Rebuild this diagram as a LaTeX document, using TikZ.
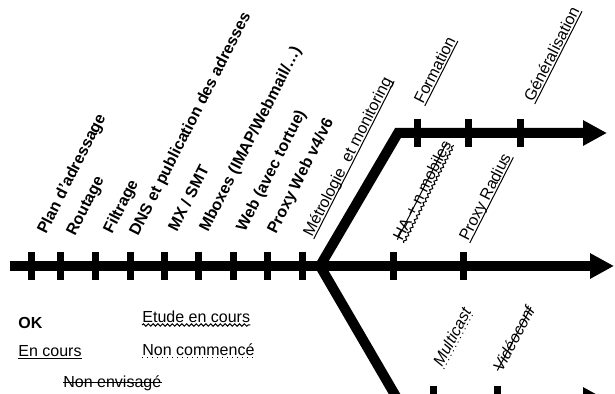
\documentclass[tikz,border=0pt]{standalone}
\usepackage{fontspec}
\setmainfont{Liberation Sans}
\usetikzlibrary{arrows.meta,calc,decorations.pathmorphing}

\tikzset{
  axis/.style={line width=5pt,line join=miter},
  axisarrow/.style={axis,-{Triangle[length=12pt,width=12pt]}},
  tickmark/.style={line width=3.5pt},
  textlab/.style={anchor=base west,inner sep=0pt,font=\fontsize{8}{9.6}\selectfont},
  lab/.style={textlab,rotate=63},
  donelab/.style={lab,font=\fontsize{8}{9.6}\selectfont\bfseries},
  slantlab/.style={textlab,rotate=62,font=\fontsize{8}{9.6}\selectfont\itshape},
  legend/.style={textlab},
  wavy/.style={decorate,decoration={snake,amplitude=.6pt,segment length=2.4pt}},
}
% under / through a text node
\newcommand{\lblunder}[2][]{\draw[line width=.5pt,#1]
  ($(#2.base west)!1pt!-90:(#2.base east)$) -- ($(#2.base east)!1pt!90:(#2.base west)$);}
\newcommand{\lblstrike}[1]{\draw[line width=.5pt] (#1.mid west) -- (#1.mid east);}

\begin{document}
\begin{tikzpicture}[x=.5pt,y=-.5pt]
  \useasboundingbox (0,0) rectangle (615,394);
  \clip (0,0) rectangle (615,394);

  % axes
  \coordinate (start) at (10,266);
  \coordinate (fork) at (320,266);
  \coordinate (mainend) at (614,266);
  \coordinate (upbend) at (398,133);
  \coordinate (upend) at (607,133);
  \coordinate (lowbend) at (398,400);
  \coordinate (lowend) at (607,400);
  \draw[axisarrow] (start) -- (mainend);
  \draw[axisarrow] (fork) -- (upbend) -- (upend);
  \draw[axisarrow] (fork) -- (lowbend) -- (lowend);

  \foreach \x in {31,60,95,130,164,198,233,267,302,393,463}
    \draw[tickmark] (\x,252) -- (\x,280);
  \foreach \x in {417,468,520}
    \draw[tickmark] (\x,119) -- (\x,147);
  \foreach \x in {433,497}
    \draw[tickmark] (\x,386) -- (\x,414);

  % done
  \node[donelab] (plan) at (46,235) {Plan d'adressage};
  \node[donelab] (routage) at (75,237) {Routage};
  \node[donelab] (filtrage) at (112,235) {Filtrage};
  \node[donelab] (dns) at (138,237) {DNS et publication des adresses};
  \node[donelab] (mx) at (177,233) {MX / SMT};
  \node[donelab] (mboxes) at (208,233) {Mboxes (IMAP/Webmail/…)};
  \node[donelab] (web) at (245,233) {Web (avec tortue)};
  \node[donelab] (proxyweb) at (276,235) {Proxy Web v4/v6};

  % in progress
  \node[lab] (metro) at (312,238) {Métrologie~ et monitoring};
  \node[lab] (formation) at (423,105) {Formation};
  \node[lab] (general) at (533,103) {Généralisation};
  \node[lab] (radius) at (468,242) {Proxy Radius};
  \foreach \n in {metro,formation,general,radius} {\lblunder{\n}}

  % under study
  \node[lab] (hamob) at (402,242) {HA + n mobiles};
  \lblunder[wavy]{hamob}
  \lblstrike{hamob}

  % not started / not planned
  \node[slantlab] (multicast) at (442,368) {Multicast};
  \lblunder[dotted]{multicast}
  \node[slantlab] (visio) at (502,373) {Vidéoconf};
  \lblstrike{visio}

  % legend
  \node[legend,font=\fontsize{8}{9.6}\selectfont\bfseries] (ok) at (18,329) {OK};
  \node[legend] (etude) at (142,323) {Etude en cours};
  \lblunder[wavy]{etude}
  \node[legend] (encours) at (18,357) {En cours};
  \lblunder{encours}
  \node[legend] (noncomm) at (142,356) {Non commencé};
  \lblunder[dotted]{noncomm}
  \node[legend] (nonenv) at (63,388) {Non envisagé};
  \lblstrike{nonenv}
\end{tikzpicture}
\end{document}
